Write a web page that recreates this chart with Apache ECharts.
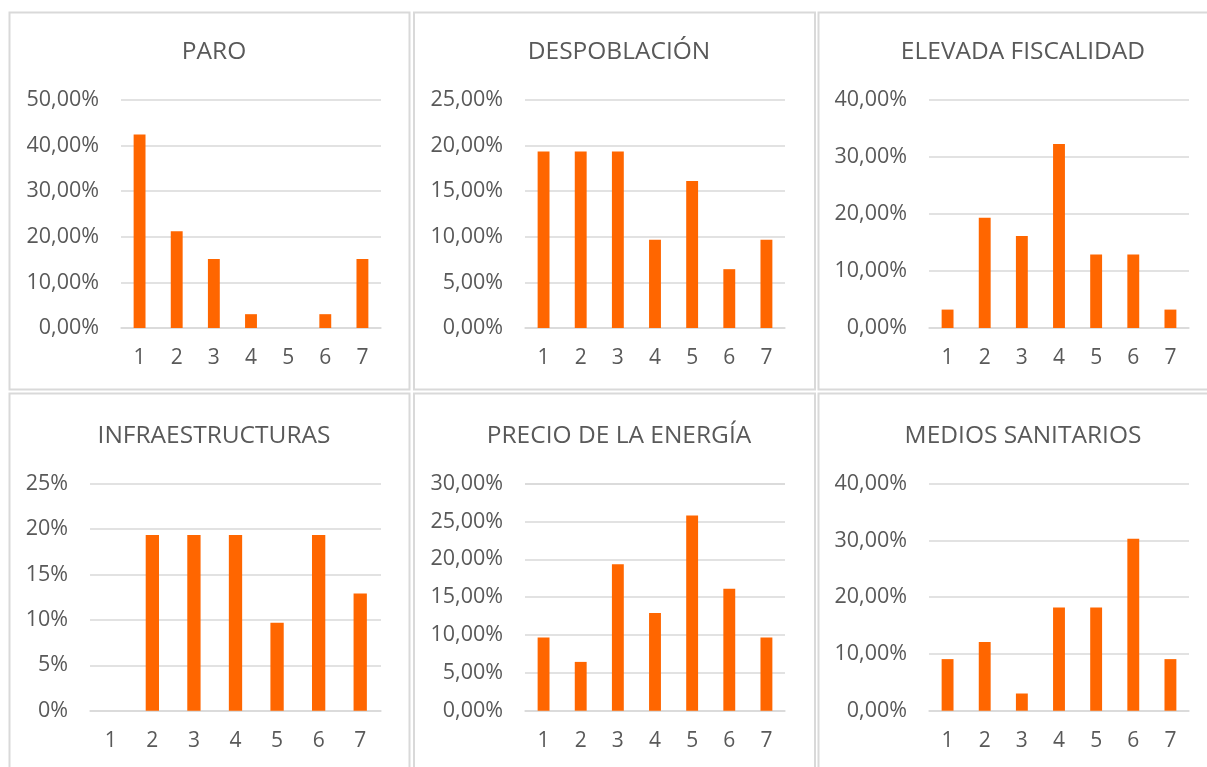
<!DOCTYPE html>
<html>
<head>
<meta charset="utf-8">
<script src="https://cdn.jsdelivr.net/npm/echarts@6/dist/echarts.min.js"></script>
<style>
  html, body { margin: 0; padding: 0; background: #ffffff; }
  #chart { width: 1207px; height: 767px; }
</style>
</head>
<body>
<div id="chart"></div>
<script>
// ---- Data ----
const categories = ['1', '2', '3', '4', '5', '6', '7'];

const paroValues            = [0.4242, 0.2121, 0.1515, 0.0303, 0.0000, 0.0303, 0.1515];
const despoblacionValues    = [0.1935, 0.1935, 0.1935, 0.0968, 0.1613, 0.0645, 0.0968];
const fiscalidadValues      = [0.0323, 0.1935, 0.1613, 0.3226, 0.1290, 0.1290, 0.0323];
const infraestructurasValues= [0.0000, 0.1935, 0.1935, 0.1935, 0.0968, 0.1935, 0.1290];
const energiaValues         = [0.0968, 0.0645, 0.1935, 0.1290, 0.2581, 0.1613, 0.0968];
const sanitariosValues      = [0.0909, 0.1212, 0.0303, 0.1818, 0.1818, 0.3030, 0.0909];

const paroTicks             = ['0,00%', '10,00%', '20,00%', '30,00%', '40,00%', '50,00%'];
const despoblacionTicks     = ['0,00%', '5,00%', '10,00%', '15,00%', '20,00%', '25,00%'];
const fiscalidadTicks       = ['0,00%', '10,00%', '20,00%', '30,00%', '40,00%'];
const infraestructurasTicks = ['0%', '5%', '10%', '15%', '20%', '25%'];
const energiaTicks          = ['0,00%', '5,00%', '10,00%', '15,00%', '20,00%', '25,00%', '30,00%'];
const sanitariosTicks       = ['0,00%', '10,00%', '20,00%', '30,00%', '40,00%'];

const paroInterval = 0.10, despoblacionInterval = 0.05, fiscalidadInterval = 0.10;
const infraestructurasInterval = 0.05, energiaInterval = 0.05, sanitariosInterval = 0.10;

const panels = [
  { title: 'PARO',                values: paroValues,             ticks: paroTicks,             interval: paroInterval },
  { title: 'DESPOBLACIÓN',        values: despoblacionValues,     ticks: despoblacionTicks,     interval: despoblacionInterval },
  { title: 'ELEVADA FISCALIDAD',  values: fiscalidadValues,       ticks: fiscalidadTicks,       interval: fiscalidadInterval },
  { title: 'INFRAESTRUCTURAS',    values: infraestructurasValues, ticks: infraestructurasTicks, interval: infraestructurasInterval },
  { title: 'PRECIO DE LA ENERGÍA',values: energiaValues,          ticks: energiaTicks,          interval: energiaInterval },
  { title: 'MEDIOS SANITARIOS',   values: sanitariosValues,       ticks: sanitariosTicks,       interval: sanitariosInterval }
];

// ---- Layout (styling only) ----
const layout = [
  { cx: 209,    titleY: 47,  grid: { left: 121, width: 260, top: 100,   height: 228 } },
  { cx: 614,    titleY: 47,  grid: { left: 525, width: 260, top: 100,   height: 228 } },
  { cx: 1018,   titleY: 47,  grid: { left: 929, width: 260, top: 100,   height: 228 } },
  { cx: 209,    titleY: 431, grid: { left: 90,  width: 291, top: 483.7, height: 227 } },
  { cx: 614,    titleY: 431, grid: { left: 525, width: 260, top: 483.7, height: 227 } },
  { cx: 1018,   titleY: 431, grid: { left: 929, width: 260, top: 483.7, height: 227 } }
];
const frames = [
  { x: 9.5,   y: 12.5,  w: 400, h: 377 },
  { x: 414,   y: 12.5,  w: 401, h: 377 },
  { x: 818.5, y: 12.5,  w: 402, h: 377 },
  { x: 9.5,   y: 393.5, w: 400, h: 380 },
  { x: 414,   y: 393.5, w: 401, h: 380 },
  { x: 818.5, y: 393.5, w: 402, h: 380 }
];

const TEXT = '#595959';
const GRIDC = '#d9d9d9';
const BAR = '#ff6600';
const FONT = '"Open Sans", "Noto Sans", sans-serif';

const option = {
  animation: false,
  backgroundColor: '#ffffff',
  title: [], grid: [], xAxis: [], yAxis: [], series: [],
  graphic: frames.map(f => ({
    type: 'rect', silent: true, z: -1,
    shape: { x: f.x, y: f.y, width: f.w, height: f.h },
    style: { fill: 'none', stroke: GRIDC, lineWidth: 2 }
  }))
};

panels.forEach((p, i) => {
  const L = layout[i];
  option.title.push({
    text: p.title,
    left: L.cx, top: L.titleY - 16,
    textAlign: 'center',
    textStyle: { color: TEXT, fontFamily: FONT, fontSize: 24.5, fontWeight: 400, lineHeight: 32 }
  });
  option.grid.push(Object.assign({ containLabel: false }, L.grid));
  option.xAxis.push({
    type: 'category', gridIndex: i, data: categories,
    axisLine: { show: true, lineStyle: { color: GRIDC, width: 1.5 } },
    axisTick: { show: false },
    axisLabel: { color: TEXT, fontFamily: FONT, fontSize: 21, margin: 20, lineHeight: 21 }
  });
  const ticks = p.ticks;
  option.yAxis.push({
    type: 'value', gridIndex: i,
    min: 0, max: p.interval * (ticks.length - 1), interval: p.interval,
    axisLine: { show: false }, axisTick: { show: false },
    splitLine: { lineStyle: { color: GRIDC, width: 1.5 } },
    axisLabel: {
      color: TEXT, fontFamily: FONT, fontSize: 21.5, margin: 22,
      formatter: (v) => ticks[Math.round(v / p.interval)]
    }
  });
  option.series.push({
    type: 'bar', xAxisIndex: i, yAxisIndex: i,
    data: p.values, barWidth: '32%',
    itemStyle: { color: BAR }
  });
});

const chart = echarts.init(document.getElementById('chart'), null, { renderer: 'canvas' });
chart.setOption(option);
</script>
</body>
</html>
